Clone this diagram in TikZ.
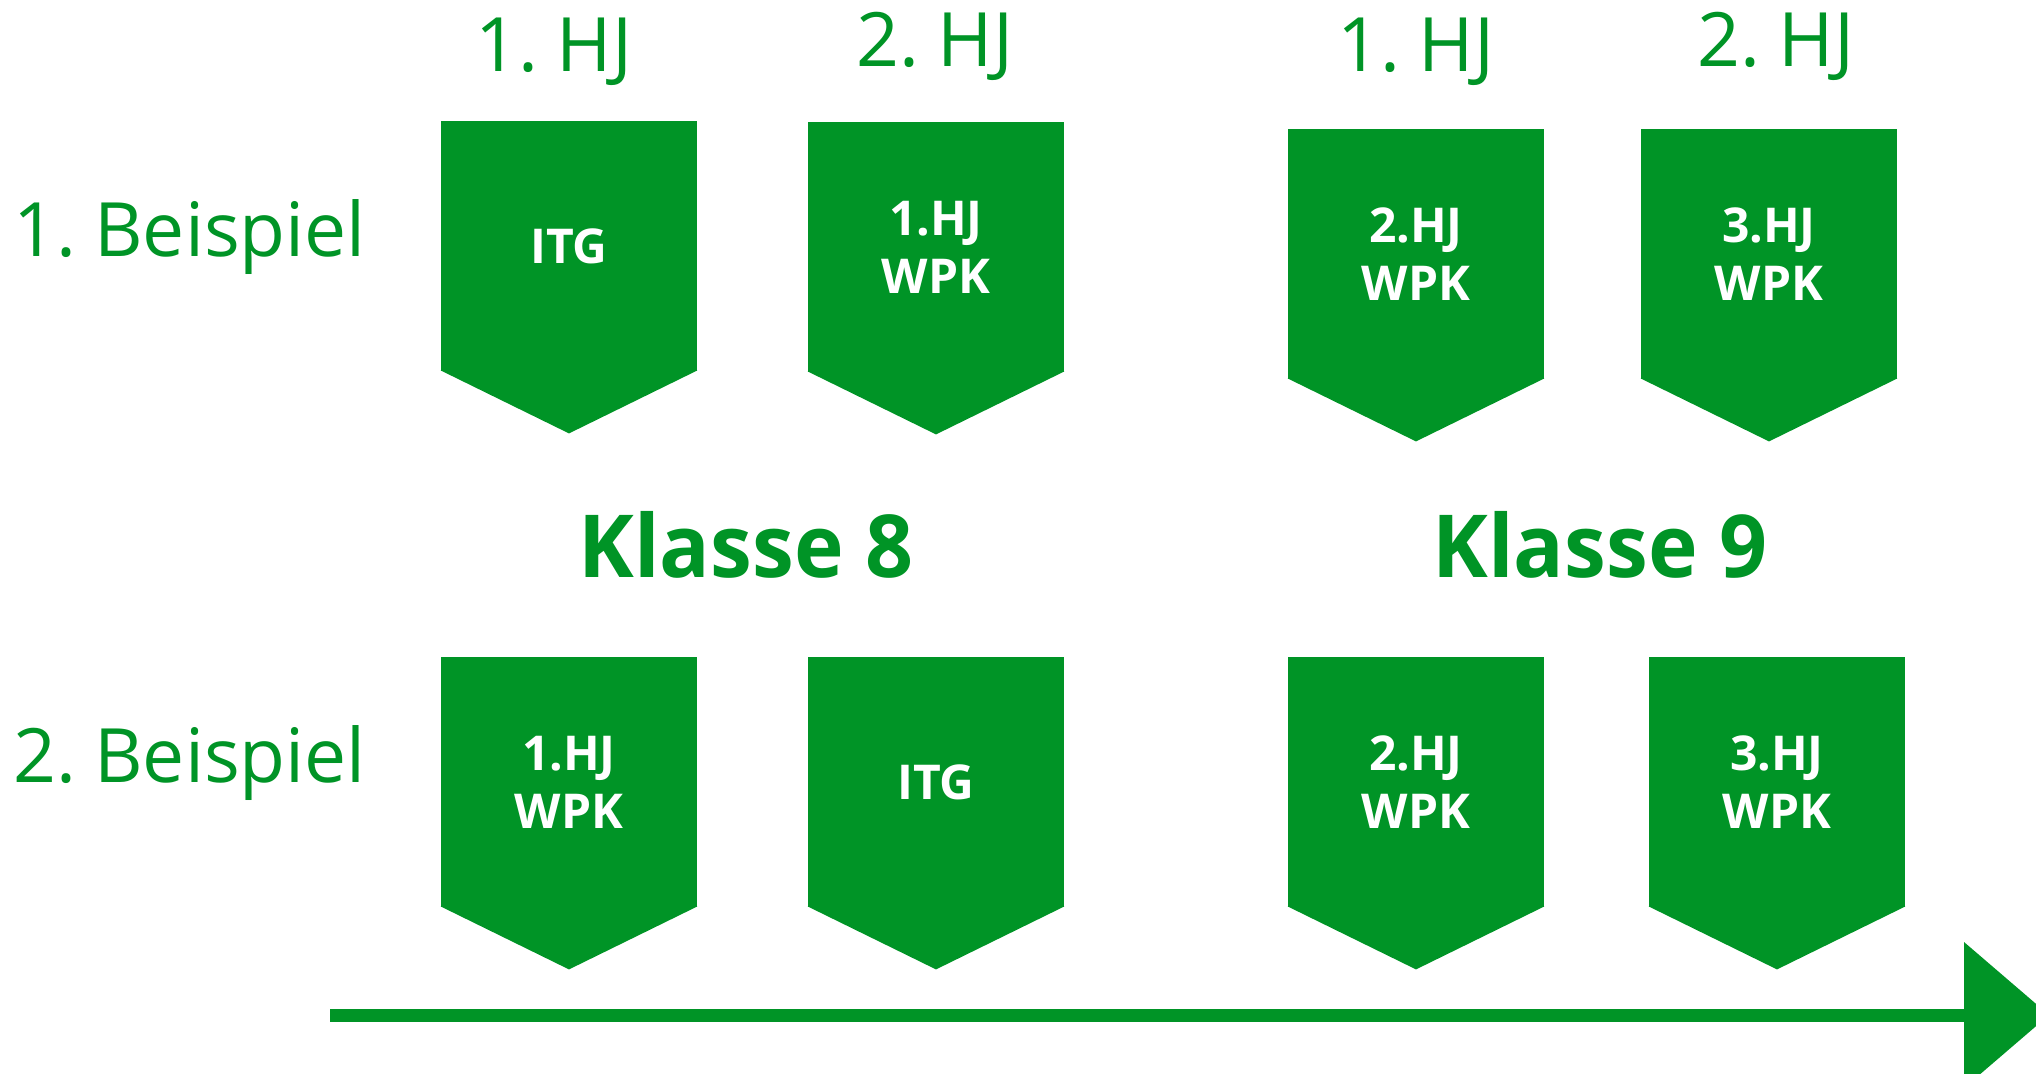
\documentclass[tikz,border=0pt]{standalone}
\usepackage{fontspec}
\setmainfont{Open Sans}
\newfontfamily\hjfont{Open Sans}[WordSpace=0.6]
\newfontfamily\klfont{Open Sans}[FakeStretch=0.965]
\usetikzlibrary{calc}
\definecolor{hjgreen}{RGB}{0,148,38}
\tikzset{
  hjbox/.style={fill=hjgreen,text=white,font=\fontsize{24}{29}\selectfont\bfseries,
    align=center,minimum width=128pt,minimum height=125pt,inner sep=0pt},
  hjlabel/.style={text=hjgreen,font=\hjfont\fontsize{37.5}{45}\selectfont,anchor=base,inner sep=0pt},
  klasse/.style={text=hjgreen,font=\klfont\fontsize{43.5}{52}\selectfont\bfseries,anchor=base,inner sep=0pt}
}
\begin{document}
\begin{tikzpicture}[x=0.5pt,y=-0.5pt]
  \useasboundingbox (0,0) rectangle (2036,1073);
  \clip (0,0) rectangle (2036,1073);
  % Halbjahre
  \node[hjlabel] (hjA) at (554,71) {1. HJ};
  \node[hjlabel] (hjB) at (935,66) {2. HJ};
  \node[hjlabel] (hjC) at (1416,71) {1. HJ};
  \node[hjlabel] (hjD) at (1776,66) {2. HJ};
  % Beispiele
  \node[hjlabel,anchor=base west] (bspA) at (13,256) {1. Beispiel};
  \node[hjlabel,anchor=base west] (bspB) at (13,782) {2. Beispiel};
  % Klassen
  \node[klasse] (kl8) at (746,577) {Klasse 8};
  \node[klasse] (kl9) at (1600,577) {Klasse 9};
  % Kaestchen
  \node[hjbox] (a1) at (569,246) {ITG};
  \node[hjbox] (a2) at (936,247) {1.HJ\\WPK};
  \node[hjbox] (a3) at (1416,254) {2.HJ\\WPK};
  \node[hjbox] (a4) at (1769,254) {3.HJ\\WPK};
  \node[hjbox] (b1) at (569,782) {1.HJ\\WPK};
  \node[hjbox] (b2) at (936,782) {ITG};
  \node[hjbox] (b3) at (1416,782) {2.HJ\\WPK};
  \node[hjbox] (b4) at (1777,782) {3.HJ\\WPK};
  \foreach \n in {a1,a2,a3,a4,b1,b2,b3,b4}
    \fill[hjgreen] ($(\n.south west)+(0,-1)$) -- ($(\n.south east)+(0,-1)$)
      -- ($(\n.south)+(0,62)$) -- cycle;
  % Zeitpfeil
  \coordinate (tA) at (330,1015);
  \coordinate (tB) at (1964,1015);
  \draw[hjgreen,line width=6.5pt] (tA) -- (tB);
  \fill[hjgreen] ($(tB)+(0,-73)$) -- ($(tB)+(85,0)$) -- ($(tB)+(0,73)$) -- cycle;
\end{tikzpicture}
\end{document}
